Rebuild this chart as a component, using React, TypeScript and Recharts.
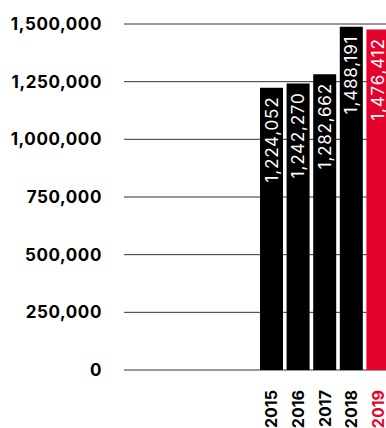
import { BarChart, Bar, XAxis, YAxis, CartesianGrid, Cell, LabelList } from "recharts";

const years = ["2015", "2016", "2017", "2018", "2019"];
const totals = [1224052, 1242270, 1282662, 1488191, 1476412];
const barColors = ["#000000", "#000000", "#000000", "#000000", "#E3032D"];
const yTicks = [0, 250000, 500000, 750000, 1000000, 1250000, 1500000];

const data = years.map((year, i) => ({ year, total: totals[i], color: barColors[i] }));

const fontFamily = "Inter, 'Liberation Sans', Arial, sans-serif";
const fmt = (v: number) => v.toLocaleString("en-US");

function YearTick(props: any) {
  const { x, y, payload, index } = props;
  return (
    <text
      x={0}
      y={0}
      transform={`translate(${x},${y + 12}) rotate(-90)`}
      textAnchor="end"
      dominantBaseline="central"
      fontFamily={fontFamily}
      fontWeight={700}
      fontSize={16}
      fill={barColors[index]}
    >
      {payload.value}
    </text>
  );
}

function ValueLabel(props: any) {
  const { x, y, width, value } = props;
  const cx = Number(x) + Number(width) / 2;
  return (
    <text
      x={0}
      y={0}
      transform={`translate(${cx},${Number(y) + 9}) rotate(-90)`}
      textAnchor="end"
      dominantBaseline="central"
      fontFamily={fontFamily}
      fontSize={17}
      letterSpacing={0.8}
      fill="#fff"
    >
      {fmt(value)}
    </text>
  );
}

export default function App() {
  return (
    <div style={{ position: "absolute", left: 0, top: 0, width: 386, height: 428, overflow: "hidden", background: "#fff" }}>
      <BarChart width={391} height={428} data={data} margin={{ top: 24, right: 0, bottom: 0, left: 0 }}>
        <CartesianGrid vertical={false} stroke="#333" strokeWidth={1} />
        <XAxis
          dataKey="year"
          axisLine={false}
          tickLine={false}
          height={58}
          padding={{ left: 134, right: 0 }}
          tick={<YearTick />}
          interval={0}
        />
        <YAxis
          width={124}
          domain={[0, 1500000]}
          ticks={yTicks}
          axisLine={false}
          tickLine={false}
          tickSize={0}
          tickMargin={22}
          tickFormatter={fmt}
          tick={{ fill: "#000", fontSize: 17, fontWeight: 700, fontFamily, letterSpacing: 0.6 }}
        />
        <Bar dataKey="total" barSize={23} isAnimationActive={false}>
          {data.map((d) => (
            <Cell key={d.year} fill={d.color} />
          ))}
          <LabelList dataKey="total" content={<ValueLabel />} />
        </Bar>
      </BarChart>
    </div>
  );
}
